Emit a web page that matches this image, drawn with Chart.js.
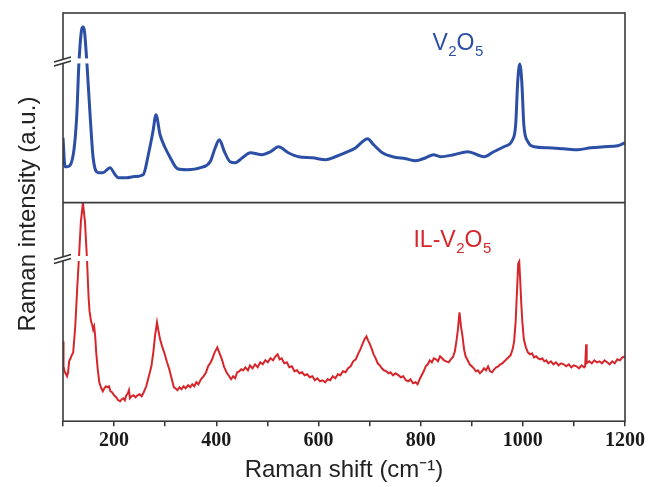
<!DOCTYPE html>
<html>
<head>
<meta charset="utf-8">
<script src="https://cdn.jsdelivr.net/npm/chart.js@4.4.1/dist/chart.umd.min.js"></script>
<style>
  body { margin: 0; background: #fff; }
</style>
</head>
<body>
<canvas id="raman" width="649" height="487"></canvas>
<script>
// V2O5 spectrum (top panel)
const blueShift = [100,104,108,120,127,131,136,139,142,147,153,159,169,178,192,202,208,225,237,257,267,276,282,290,300,310,324,343,369,388,398,406,416,427,437,451,467,490,506,522,541,561,588,614,633,653,673,686,696,708,725,745,771,790,810,825,839,865,892,924,943,963,980,986,990,994,998,1002,1010,1022,1049,1080,1108,1133,1159,1186,1200];
const blueCounts = [65,36,36,48,88,138,172,176,172,138,88,45,30,30,35,28,25,25,26,28,48,71,88,68,55,45,34,33,35,41,55,63,51,41,40,45,50,48,51,56,50,46,45,43,46,50,55,61,64,58,50,46,44,42,45,48,46,48,51,46,51,56,63,78,121,139,121,78,61,56,55,54,53,55,56,57,60];

// IL-V2O5 spectrum (bottom panel)
const redShift = [100,101,103,106,108,110,112,114,117,120,124,128,131,135,139,143,147,150,152,155,157,159,161,163,165,168,171,175,178,181,184,187,190,193,196,200,204,208,212,215,218,221,224,227,229,231,234,238,242,246,250,254,258,263,268,273,277,280,284,287,290,294,298,303,308,312,317,320,324,328,332,336,340,345,349,353,357,361,365,370,375,380,384,388,392,396,400,402,405,408,411,415,420,424,429,433,437,441,445,449,453,457,462,466,471,476,481,486,491,496,501,506,511,516,520,524,528,533,538,543,548,553,558,563,568,573,578,583,588,593,598,603,608,613,618,623,628,633,638,643,648,653,658,663,668,673,678,682,686,690,694,697,700,704,708,712,716,720,724,728,733,737,741,746,751,757,761,766,771,776,780,785,790,794,798,802,806,810,814,818,822,826,830,834,838,842,846,850,855,859,863,867,870,873,876,879,882,885,888,892,896,900,904,908,912,916,920,924,928,932,936,940,944,948,952,956,960,964,968,972,976,980,983,986,989,991,993,995,997,999,1002,1006,1010,1014,1018,1022,1026,1030,1034,1038,1042,1046,1050,1055,1060,1065,1070,1075,1080,1085,1090,1095,1100,1105,1110,1115,1120,1122,1124,1125,1130,1135,1140,1145,1150,1155,1160,1165,1170,1175,1180,1185,1190,1195,1200];
const redCounts = [80,55,50,47,45,49,60,62,66,69,95,135,162,200,219,200,162,125,110,100,97,92,95,85,69,52,39,33,30,33,35,34,35,30,29,26,24,21,20,22,23,21,26,28,31,23,25,26,24,26,27,25,29,35,45,55,70,85,99,90,82,75,69,60,52,44,34,33,31,34,32,35,33,36,34,37,35,39,37,42,45,49,55,58,62,68,72,74,70,66,62,55,49,46,42,45,43,49,50,52,51,54,51,56,53,57,54,59,57,61,59,63,61,65,67,62,63,58,59,54,55,50,51,48,49,46,47,44,45,41,43,40,41,39,42,41,45,43,47,46,50,49,53,55,60,62,68,72,77,82,85,81,78,73,67,63,58,56,53,51,50,48,49,46,48,46,44,45,41,40,42,38,39,37,42,46,50,55,57,61,59,63,62,60,65,63,61,60,59,62,64,70,80,92,109,95,85,72,65,61,57,55,53,50,51,48,50,53,51,55,50,49,52,54,55,57,58,60,62,64,66,72,80,100,135,158,160,140,118,100,82,74,69,67,68,64,65,63,62,63,60,61,58,60,57,59,56,58,57,55,57,54,56,55,53,56,54,55,77,58,60,58,61,59,60,58,61,59,57,60,58,62,61,64,65];

// where the intensity axis is broken
const breakTop = 142;
const breakBot = 163;

const blueColor = '#2c4fa6';
const redColor = '#d7262b';

const toPoints = (xs, ys) => xs.map((x, i) => ({ x: x, y: ys[i] }));

function chemLabel(ctx, parts, x, y, color) {
  ctx.fillStyle = color;
  ctx.textBaseline = 'alphabetic';
  ctx.textAlign = 'left';
  parts.forEach(p => {
    const sub = /^[0-9]$/.test(p);
    ctx.font = sub ? '15px "Liberation Sans", Arial, sans-serif' : '23px "Liberation Sans", Arial, sans-serif';
    ctx.fillText(p, x, sub ? y + 6 : y);
    x += ctx.measureText(p).width + (sub ? 0 : 0.5);
  });
}

const decor = {
  id: 'decor',
  afterDatasetsDraw(chart) {
    const { ctx, chartArea: a, scales } = chart;
    const x = scales.x, yT = scales.yTop, yB = scales.yBot;
    ctx.save();

    // cut the strongest band where the axis is broken
    ctx.fillStyle = '#fff';
    [[yT, breakTop], [yB, breakBot]].forEach(([s, v]) => {
      const py = s.getPixelForValue(v);
      const x0 = x.getPixelForValue(112), x1 = x.getPixelForValue(170);
      ctx.fillRect(x0, py - 2.5, x1 - x0, 5);
    });

    // frame + divider
    ctx.strokeStyle = '#3a3a3a';
    ctx.lineWidth = 1.6;
    ctx.strokeRect(a.left, a.top, a.width, a.height);
    ctx.beginPath();
    ctx.moveTo(a.left, yT.bottom);
    ctx.lineTo(a.right, yT.bottom);
    ctx.stroke();

    // break marks
    [[yT, breakTop], [yB, breakBot]].forEach(([s, v]) => {
      const py = s.getPixelForValue(v);
      ctx.fillStyle = '#fff';
      ctx.beginPath();
      ctx.moveTo(a.left - 9, py + 1);
      ctx.lineTo(a.left + 8, py - 4);
      ctx.lineTo(a.left + 8, py);
      ctx.lineTo(a.left - 9, py + 5);
      ctx.closePath();
      ctx.fill();
      ctx.strokeStyle = '#333';
      ctx.lineWidth = 1.5;
      ctx.beginPath();
      ctx.moveTo(a.left - 9, py + 1);
      ctx.lineTo(a.left + 8, py - 4);
      ctx.moveTo(a.left - 9, py + 5);
      ctx.lineTo(a.left + 8, py);
      ctx.stroke();
    });

    // sample labels
    chemLabel(ctx, ['V', '2', 'O', '5'], x.getPixelForValue(823), yT.getPixelForValue(153), blueColor);
    chemLabel(ctx, ['IL-V', '2', 'O', '5'], x.getPixelForValue(786), yB.getPixelForValue(175), redColor);

    // y axis title
    ctx.save();
    ctx.translate(28, 214);
    ctx.rotate(-Math.PI / 2);
    ctx.fillStyle = '#222';
    ctx.font = '24px "Liberation Sans", Arial, sans-serif';
    ctx.textAlign = 'center';
    ctx.textBaseline = 'middle';
    ctx.fillText('Raman intensity (a.u.)', 0, 0);
    ctx.restore();

    ctx.restore();
  }
};

const hiddenY = {
  display: true,
  ticks: { display: false },
  grid: { display: false, drawTicks: false },
  border: { display: false }
};

new Chart(document.getElementById('raman'), {
  type: 'line',
  data: {
    datasets: [
      {
        label: 'V2O5',
        data: toPoints(blueShift, blueCounts),
        yAxisID: 'yTop',
        borderColor: blueColor,
        borderWidth: 3,
        pointRadius: 0,
        cubicInterpolationMode: 'monotone'
      },
      {
        label: 'IL-V2O5',
        data: toPoints(redShift, redCounts),
        yAxisID: 'yBot',
        borderColor: redColor,
        borderWidth: 2,
        pointRadius: 0,
        tension: 0
      }
    ]
  },
  options: {
    responsive: false,
    animation: false,
    layout: { padding: { left: 63, right: 24, top: 13, bottom: 2 } },
    plugins: { legend: { display: false }, tooltip: { enabled: false } },
    scales: {
      x: {
        type: 'linear',
        min: 100,
        max: 1200,
        border: { display: false },
        grid: { display: true, drawOnChartArea: false, drawTicks: true, tickLength: 5, color: '#333', lineWidth: 1.5 },
        ticks: {
          stepSize: 100,
          autoSkip: false,
          maxRotation: 0,
          padding: 3,
          color: '#1a1a1a',
          font: { family: '"Liberation Serif", "Times New Roman", serif', size: 20, weight: 'bold' },
          callback: v => (v % 200 === 0 ? v : '')
        },
        title: {
          display: true,
          text: 'Raman shift (cm\u207B\u00B9)',
          color: '#222',
          font: { family: '"Liberation Sans", Arial, sans-serif', size: 24 },
          padding: { top: 0, bottom: 0 }
        }
      },
      yTop: Object.assign({}, hiddenY, { position: 'left', stack: 'raman', stackWeight: 190, weight: 2, min: 0, max: 190 }),
      yBot: Object.assign({}, hiddenY, { position: 'left', stack: 'raman', stackWeight: 219, weight: 1, min: 0, max: 219 })
    }
  },
  plugins: [decor]
});
</script>
</body>
</html>
